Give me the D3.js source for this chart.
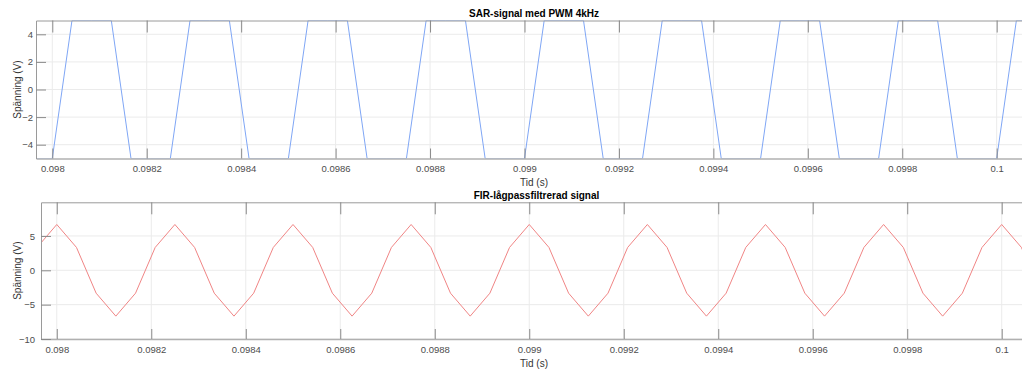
<!DOCTYPE html>
<html><head><meta charset="utf-8">
<script src="https://cdn.jsdelivr.net/npm/d3@7"></script>
<style>
html,body{margin:0;padding:0;background:#fff;}
svg{display:block;font-family:"Liberation Sans",Arial,Helvetica,sans-serif;}
</style></head>
<body>
<svg id="chart" width="1022" height="369"></svg>
<script>
// ---- data (sample times in seconds, 24 kHz sampling) ----
const tid = [0.0979583,0.098,0.0980417,0.0980833,0.098125,0.0981667,0.0982083,0.09825,0.0982917,0.0983333,
  0.098375,0.0984167,0.0984583,0.0985,0.0985417,0.0985833,0.098625,0.0986667,0.0987083,0.09875,
  0.0987917,0.0988333,0.098875,0.0989167,0.0989583,0.099,0.0990417,0.0990833,0.099125,0.0991667,
  0.0992083,0.09925,0.0992917,0.0993333,0.099375,0.0994167,0.0994583,0.0995,0.0995417,0.0995833,
  0.099625,0.0996667,0.0997083,0.09975,0.0997917,0.0998333,0.099875,0.0999167,0.0999583,0.1,
  0.1000417,0.1000833];
const sarSignal = [-5,
  -5,5,5,5,-5,-5, -5,5,5,5,-5,-5, -5,5,5,5,-5,-5, -5,5,5,5,-5,-5,
  -5,5,5,5,-5,-5, -5,5,5,5,-5,-5, -5,5,5,5,-5,-5, -5,5,5,5,-5,-5,
  -5,5,5];
const firSignal = [3.33,
  6.67,3.33,-3.33,-6.67,-3.33,3.33, 6.67,3.33,-3.33,-6.67,-3.33,3.33,
  6.67,3.33,-3.33,-6.67,-3.33,3.33, 6.67,3.33,-3.33,-6.67,-3.33,3.33,
  6.67,3.33,-3.33,-6.67,-3.33,3.33, 6.67,3.33,-3.33,-6.67,-3.33,3.33,
  6.67,3.33,-3.33,-6.67,-3.33,3.33, 6.67,3.33,-3.33,-6.67,-3.33,3.33,
  6.67,3.33,-3.33];
const xTicks = [0.098,0.0982,0.0984,0.0986,0.0988,0.099,0.0992,0.0994,0.0996,0.0998,0.1];
const xTickLabels = ["0.098","0.0982","0.0984","0.0986","0.0988","0.099","0.0992","0.0994","0.0996","0.0998","0.1"];
const yTicksTop = [-4,-2,0,2,4];
const yTicksBottom = [-10,-5,0,5];
const titles = ["SAR-signal med PWM 4kHz","FIR-lågpassfiltrerad signal"];
const xLabel = "Tid (s)";
const yLabel = "Spänning (V)";

// ---- layout ----
const panels = [
  {left:36, right:1032, top:20.5, bottom:158.5, xDom:[0.0979655,0.1000748], yDom:[-5,5],
   yTicks:yTicksTop, values:sarSignal, color:"#7fa6f5", title:titles[0], titleX:534, titleY:17,
   tickY:171.5, labelY:185.5, ylabX:17},
  {left:41, right:1032, top:202.3, bottom:339, xDom:[0.0979666,0.1000641], yDom:[-10,9.9],
   yTicks:yTicksBottom, values:firSignal, color:"#f08585", title:titles[1], titleX:536.5, titleY:199,
   tickY:352.5, labelY:366.5, ylabX:17}
];

const svg = d3.select("#chart");
const defs = svg.append("defs");

panels.forEach((p,i) => {
  const x = d3.scaleLinear().domain(p.xDom).range([p.left,p.right]);
  const y = d3.scaleLinear().domain(p.yDom).range([p.bottom,p.top]);
  const g = svg.append("g");

  // grid
  g.append("g").selectAll("line").data(xTicks).join("line")
    .attr("x1",d=>x(d)).attr("x2",d=>x(d)).attr("y1",p.top).attr("y2",p.bottom)
    .attr("stroke","#ebebeb").attr("stroke-width",1);
  g.append("g").selectAll("line").data(p.yTicks).join("line")
    .attr("x1",p.left).attr("x2",p.right).attr("y1",d=>y(d)).attr("y2",d=>y(d))
    .attr("stroke","#ebebeb").attr("stroke-width",1);

  // line
  defs.append("clipPath").attr("id","clip"+i).append("rect")
    .attr("x",p.left).attr("y",p.top).attr("width",p.right-p.left).attr("height",p.bottom-p.top);
  const line = d3.line().x((d,k)=>x(tid[k])).y(d=>y(d));
  g.append("path").datum(p.values).attr("d",line)
    .attr("fill","none").attr("stroke",p.color).attr("stroke-width",1)
    .attr("clip-path","url(#clip"+i+")");

  // axes with d3 axis generators
  const xAxisB = d3.axisBottom(x).tickValues(xTicks).tickFormat((d,k)=>xTickLabels[k])
    .tickSizeInner(-10).tickSizeOuter(0);
  const gxb = g.append("g").attr("transform",`translate(0,${p.bottom})`).call(xAxisB);
  const xAxisT = d3.axisTop(x).tickValues(xTicks).tickFormat("").tickSizeInner(-12).tickSizeOuter(0);
  const gxt = g.append("g").attr("transform",`translate(0,${p.top})`).call(xAxisT);
  const yAxis = d3.axisLeft(y).tickValues(p.yTicks).tickFormat(d3.format("d"))
    .tickSizeInner(-10).tickSizeOuter(0).tickPadding(i===0?3:6);
  const gy = g.append("g").attr("transform",`translate(${p.left},0)`).call(yAxis);

  [gxb,gxt,gy].forEach(a=>{
    a.select(".domain").attr("stroke","#9a9a9a").attr("stroke-width",1);
    a.selectAll(".tick line").attr("stroke","#8a8a8a");
    a.selectAll(".tick text").attr("fill","#4d4d4d").style("font-size","9.5px")
      .style("font-family","'Liberation Sans',Arial,sans-serif");
  });
  gxb.select(".domain").attr("stroke","#b0b0b0").attr("stroke-width",1.5);
  gxb.selectAll(".tick text").attr("dy",null).attr("y",p.tickY - p.bottom);

  // titles & labels
  g.append("text").attr("x",p.titleX).attr("y",p.titleY).attr("text-anchor","middle")
    .style("font-size","10px").style("font-weight","bold").attr("fill","#000").text(p.title);
  g.append("text").attr("x",534).attr("y",p.labelY).attr("text-anchor","middle")
    .style("font-size","10px").attr("fill","#333").text(xLabel);
  g.append("text").attr("transform",`translate(${p.ylabX},${(p.top+p.bottom)/2}) rotate(-90)`)
    .attr("text-anchor","middle").attr("dy","0.35em")
    .style("font-size","10px").attr("fill","#333").text(yLabel);
});
</script>
</body></html>
